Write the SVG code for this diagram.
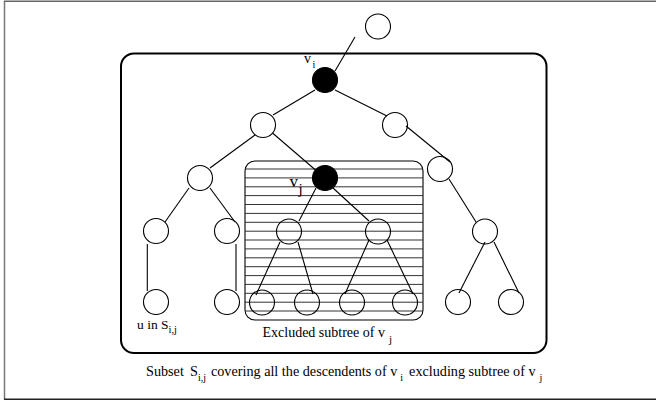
<svg xmlns="http://www.w3.org/2000/svg" width="656" height="401" viewBox="0 0 656 401">
<style>
.n{fill:none;stroke:#000;stroke-width:1.1}
.f{fill:#000;stroke:#000;stroke-width:1.1}
.e line{stroke:#000;stroke-width:1.1}
.h line{stroke:#333;stroke-width:1}
text{font-family:"Liberation Serif","Times New Roman",serif;fill:#000}
</style>
<rect width="656" height="401" fill="#fff"/>
<g id="frame">
<line x1="4.5" y1="1" x2="4.5" y2="399" stroke="#777" stroke-width="1.5"/>
<line x1="4" y1="1.2" x2="656" y2="1.2" stroke="#666" stroke-width="1.5"/>
<line x1="4" y1="399.3" x2="656" y2="399.3" stroke="#222" stroke-width="1.5"/>
</g>
<g id="excluded-box">
<rect x="245" y="161" width="178" height="159" rx="10" fill="#fff" stroke="#000" stroke-width="1.1"/>
<g class="h">
<line x1="245" y1="169" x2="423" y2="169"/>
<line x1="245" y1="177.9" x2="423" y2="177.9"/>
<line x1="245" y1="186.8" x2="423" y2="186.8"/>
<line x1="245" y1="195.6" x2="423" y2="195.6"/>
<line x1="245" y1="204.5" x2="423" y2="204.5"/>
<line x1="245" y1="213.4" x2="423" y2="213.4"/>
<line x1="245" y1="222.3" x2="423" y2="222.3"/>
<line x1="245" y1="231.2" x2="423" y2="231.2"/>
<line x1="245" y1="240" x2="423" y2="240"/>
<line x1="245" y1="248.9" x2="423" y2="248.9"/>
<line x1="245" y1="257.8" x2="423" y2="257.8"/>
<line x1="245" y1="266.7" x2="423" y2="266.7"/>
<line x1="245" y1="275.6" x2="423" y2="275.6"/>
<line x1="245" y1="284.4" x2="423" y2="284.4"/>
<line x1="245" y1="293.3" x2="423" y2="293.3"/>
<line x1="245" y1="302.2" x2="423" y2="302.2"/>
<line x1="245" y1="311" x2="423" y2="311"/>
</g>
</g>
<g id="connectors" class="e">
<line x1="355" y1="37" x2="335" y2="71"/>
<line x1="315" y1="90" x2="273" y2="115"/>
<line x1="335" y1="90" x2="387" y2="116"/>
<line x1="255" y1="135" x2="210" y2="168"/>
<line x1="272.5" y1="133" x2="315.5" y2="170"/>
<line x1="406" y1="126" x2="450" y2="162"/>
<line x1="189" y1="188" x2="165" y2="222"/>
<line x1="210" y1="188" x2="235" y2="222"/>
<line x1="316" y1="188" x2="299" y2="221"/>
<line x1="333" y1="188" x2="369" y2="221"/>
<line x1="449" y1="179" x2="476" y2="222"/>
<line x1="147.3" y1="244" x2="147.3" y2="291"/>
<line x1="236" y1="244" x2="236" y2="291"/>
<line x1="280" y1="242" x2="256" y2="295"/>
<line x1="298" y1="242" x2="313" y2="294"/>
<line x1="369" y1="240" x2="345" y2="294"/>
<line x1="387" y1="240" x2="413" y2="294"/>
<line x1="485" y1="242" x2="459" y2="293"/>
<line x1="494" y1="242" x2="519" y2="293"/>
</g>
<g id="outer-box">
<rect x="121" y="53.5" width="425.5" height="299.5" rx="13" fill="none" stroke="#000" stroke-width="2"/>
</g>
<g id="nodes">
<g id="n-root"><circle class="n" cx="378" cy="26.5" r="12.5"/></g>
<g id="n-vi"><circle class="f" cx="325" cy="80" r="12.5"/></g>
<g id="n-c"><circle class="n" cx="263" cy="125" r="12.5"/></g>
<g id="n-d"><circle class="n" cx="395" cy="125" r="12.5"/></g>
<g id="n-e"><circle class="n" cx="200" cy="178" r="12.5"/></g>
<g id="n-vj"><circle class="f" cx="325" cy="178" r="12.5"/></g>
<g id="n-g"><circle class="n" cx="440" cy="169" r="12.5"/></g>
<g id="n-h"><circle class="n" cx="156" cy="231" r="12.5"/></g>
<g id="n-i"><circle class="n" cx="227" cy="231" r="12.5"/></g>
<g id="n-j"><circle class="n" cx="289" cy="231.5" r="12.5"/></g>
<g id="n-k"><circle class="n" cx="378" cy="231.5" r="12.5"/></g>
<g id="n-l"><circle class="n" cx="485" cy="231.5" r="12.5"/></g>
<g id="n-m"><circle class="n" cx="156" cy="302" r="12.5"/></g>
<g id="n-n"><circle class="n" cx="227" cy="302" r="12.5"/></g>
<g id="n-o"><circle class="n" cx="262" cy="302.5" r="12.5"/></g>
<g id="n-p"><circle class="n" cx="307" cy="302.5" r="12.5"/></g>
<g id="n-q"><circle class="n" cx="352" cy="302.5" r="12.5"/></g>
<g id="n-r"><circle class="n" cx="405" cy="302.5" r="12.5"/></g>
<g id="n-s"><circle class="n" cx="458" cy="302" r="12.5"/></g>
<g id="n-t"><circle class="n" cx="511" cy="302" r="12.5"/></g>
</g>
<g id="labels">
<text x="304" y="63" font-size="14">v<tspan x="312.5" y="68" font-size="10">i</tspan></text>
<text x="289.5" y="187" font-size="17">v<tspan x="298.5" y="193.5" font-size="15">j</tspan></text>
<text x="137" y="328.5" font-size="13.5">u in S<tspan dy="4" font-size="10.5">i,j</tspan></text>
<text x="262.5" y="337" font-size="14">Excluded subtree of v<tspan dx="4" dy="6" font-size="11">j</tspan></text>
<text x="146" y="375.5" font-size="14.2">Subset<tspan x="190">S</tspan><tspan dy="5.5" font-size="10">i,j</tspan><tspan dx="5" dy="-5.5">covering all the descendents of v</tspan><tspan dx="3" dy="5.5" font-size="10">i</tspan><tspan dx="6" dy="-5.5">excluding subtree of v</tspan><tspan dx="4" dy="5.5" font-size="10">j</tspan></text>
</g>
</svg>
